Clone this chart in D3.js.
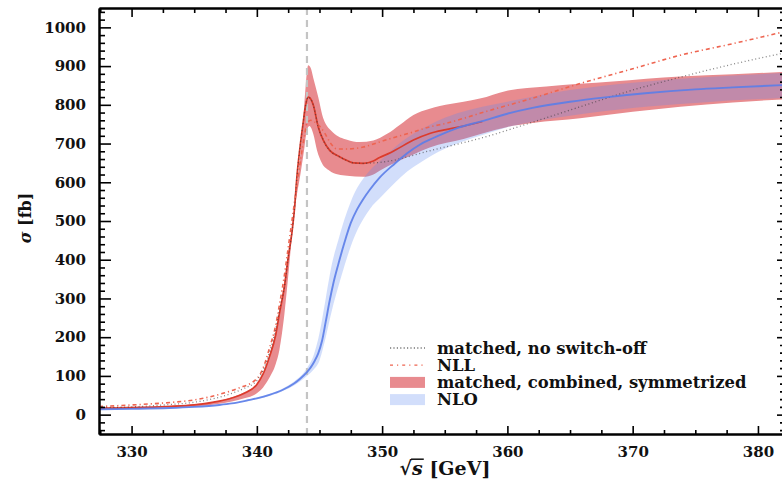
<!DOCTYPE html>
<html>
<head>
<meta charset="utf-8">
<script src="https://cdn.jsdelivr.net/npm/d3@7"></script>
<style>
  body { margin: 0; background: #fff; }
  svg { display: block; }
</style>
</head>
<body>
<svg id="chart" width="782" height="482"></svg>
<script>
// Cross section sigma [fb] versus sqrt(s) [GeV] near the top-pair threshold.

const xMajorTicks = [330, 340, 350, 360, 370, 380];
const xMinorTicks = [327.5, 332.5, 335, 337.5, 342.5, 345, 347.5, 352.5, 355, 357.5, 362.5, 365, 367.5, 372.5, 375, 377.5];
const yMajorTicks = [0, 100, 200, 300, 400, 500, 600, 700, 800, 900, 1000];
const yMinorTicks = d3.range(-40, 1050, 20).filter(v => v % 100 !== 0);
const thresholdLine = 344;

// NLO central value [sqrt(s), sigma]
const nloCentral = [
  [327.4, 14], [330, 15], [333, 17], [335, 20], [337, 25], [338, 29], [339, 35], [340, 42],
  [341, 51], [342, 63], [343, 81], [343.5, 94], [344, 110], [344.3, 122], [344.6, 138],
  [344.9, 158], [345.2, 190], [345.5, 240], [345.8, 292], [346.1, 338], [346.5, 388],
  [347, 445], [347.5, 495], [348, 530], [348.5, 557], [349, 580], [349.8, 612], [351, 648],
  [352, 675], [353, 697], [354, 713], [356, 740], [358, 758], [360, 777], [362, 792],
  [365, 808], [368, 820], [371, 830], [375, 840], [378, 845], [382, 851]
];

// NLO uncertainty band [sqrt(s), low, high]
const nloBand = [
  [327.4, 13, 15], [335, 19, 21], [340, 40, 44], [342, 60, 66], [343, 76, 86], [344, 100, 120],
  [344.5, 115, 150], [345, 140, 210], [345.5, 200, 300], [346, 270, 390], [346.5, 330, 450],
  [347, 385, 505], [347.5, 435, 550], [348, 475, 585], [348.5, 505, 610], [349, 530, 630],
  [350, 565, 660], [351, 598, 690], [352, 628, 715], [353, 650, 735], [354, 670, 752],
  [356, 700, 778], [358, 722, 795], [360, 742, 808], [365, 772, 838], [370, 792, 857],
  [375, 805, 870], [382, 818, 882]
];

// Matched, combined, symmetrized: band edges [sqrt(s), sigma]
const matchedBandLow = [
  [327.4, 15], [330, 16], [333, 19], [335, 21], [337, 28], [338, 34], [339, 42], [340, 55],
  [340.5, 70], [341, 95], [341.5, 130], [341.8, 167], [342.2, 260], [342.5, 356], [342.8, 460],
  [343.1, 545], [343.5, 625], [343.8, 690], [344.0, 735], [344.2, 745], [344.5, 725],
  [344.8, 683], [345.2, 649], [345.8, 630], [346.5, 620], [347.2, 617], [348.5, 614],
  [349.3, 620], [349.8, 630], [351.1, 652], [352.5, 672], [353.8, 690], [356.5, 712],
  [358, 726], [360, 743], [362, 753], [365.8, 765], [370, 782], [373.8, 795], [378, 806], [382, 814]
];
const matchedBandHigh = [
  [327.4, 19], [330, 21], [333, 23], [335, 27], [337, 36], [338, 45], [339, 58], [340, 80],
  [340.5, 105], [341, 152], [341.5, 215], [341.8, 265], [342.2, 345], [342.5, 410], [342.8, 480],
  [343.1, 565], [343.4, 650], [343.7, 760], [343.9, 850], [344.1, 902], [344.3, 895],
  [344.5, 870], [344.9, 820], [345.3, 765], [346.1, 728], [347.2, 710], [348.2, 704],
  [349.3, 708], [350.4, 725], [351.4, 748], [352.5, 774], [353.8, 790], [354.6, 797],
  [356.5, 808], [357.8, 816], [359.9, 836], [363.1, 847], [368.4, 860], [373.8, 873],
  [378, 879], [382, 885]
];

// Matched central value (joins NLO above ~358 GeV)
const matchedCentral = [
  [327.4, 16], [330, 17.5], [333, 21], [335, 25], [337, 35], [338, 43], [339, 55], [340, 78],
  [340.5, 105], [341, 149], [341.5, 205], [341.8, 261], [342.2, 330], [342.5, 405], [342.8, 470],
  [343.0, 530], [343.2, 615], [343.5, 705], [343.7, 755], [343.9, 800], [344.1, 820],
  [344.3, 815], [344.5, 800], [344.9, 743], [345.3, 709], [345.8, 683], [346.6, 666],
  [347.2, 656], [347.7, 650], [348.5, 649], [349.3, 655], [349.8, 664], [350.5, 674],
  [351.1, 684], [352.5, 709], [353.8, 726], [355.1, 736], [356.5, 745], [358, 757]
];

// Matched, no switch-off
const matchedNoSwitchOff = [
  [327.4, 18], [330, 20], [333, 26], [335, 32], [337, 45], [338, 55], [339, 68], [340, 88],
  [340.5, 115], [341, 160], [341.5, 220], [341.8, 268], [342.2, 330], [342.5, 405], [342.8, 470],
  [343.0, 530], [343.2, 615], [343.5, 705], [343.7, 755], [343.9, 800], [344.1, 820],
  [344.3, 815], [344.5, 800], [344.9, 743], [345.3, 709], [345.8, 683], [346.6, 666],
  [347.2, 656], [347.7, 650], [348.5, 649], [349.3, 650], [350, 652], [354, 683], [358, 715],
  [362, 755], [366, 797], [368, 818], [370, 838], [374, 873], [378, 905], [382, 933]
];

// NLL
const nll = [
  [327.4, 21], [330, 25], [333.3, 32], [335, 38], [337.3, 55], [338.5, 68], [340, 93],
  [340.5, 120], [341, 171], [341.5, 230], [341.8, 283], [342.2, 360], [342.5, 430], [342.8, 500],
  [343.1, 570], [343.5, 660], [343.8, 720], [344.0, 752], [344.3, 760], [344.6, 756],
  [345.0, 745], [345.4, 728], [345.9, 700], [346.4, 686], [347.2, 686], [348.5, 691],
  [349.6, 702], [351.1, 717], [352.5, 730], [353.8, 743], [355.1, 752], [356.5, 765],
  [357.8, 778], [362, 817], [365.8, 855], [370, 893], [373.8, 928], [378, 958], [382, 988]
];

const legendItems = [
  { label: "matched, no switch-off", kind: "dotted" },
  { label: "NLL", kind: "dashdot" },
  { label: "matched, combined, symmetrized", kind: "redband" },
  { label: "NLO", kind: "blueband" }
];

const colors = {
  redBand: "#e88b8f",
  blueBand: "rgb(95,135,240)",
  matched: "#dc3b2c",
  nll: "#ee6450",
  dotted: "#333333",
  nlo: "#5b7de8",
  threshold: "#c4c4c4"
};

const svg = d3.select("#chart");
const plotLeft = 99, plotRight = 783, plotTop = 8, plotBottom = 434;

const x = d3.scaleLinear().domain([327.4, 382]).range([plotLeft, plotRight]);
const y = d3.scaleLinear().domain([-50, 1050]).range([plotBottom, plotTop]);

svg.append("defs").append("clipPath").attr("id", "plotClip")
  .append("rect").attr("x", plotLeft).attr("y", plotTop)
  .attr("width", plotRight - plotLeft).attr("height", plotBottom - plotTop);

const plot = svg.append("g").attr("clip-path", "url(#plotClip)");

const curve = d3.curveMonotoneX;

const bandArea = d3.area().x(d => x(d[0])).y0(d => y(d[1])).y1(d => y(d[2])).curve(curve);
const line = d3.line().x(d => x(d[0])).y(d => y(d[1])).curve(curve);

// Matched band: upper edge forward, lower edge back
const redBandPath = line(matchedBandHigh) + "L" +
  line(matchedBandLow.slice().reverse()).slice(1) + "Z";

plot.append("path").attr("d", redBandPath).attr("fill", colors.redBand);

plot.append("path").datum(nloBand).attr("d", bandArea)
  .attr("fill", colors.blueBand).attr("fill-opacity", 0.28);

// threshold marker
plot.append("line")
  .attr("x1", x(thresholdLine)).attr("x2", x(thresholdLine))
  .attr("y1", plotTop).attr("y2", plotBottom)
  .attr("stroke", colors.threshold).attr("stroke-width", 2.2)
  .attr("stroke-dasharray", "7 5");

plot.append("path").datum(matchedCentral).attr("d", line)
  .attr("fill", "none").attr("stroke", colors.matched).attr("stroke-width", 1.7);

plot.append("path").datum(nll).attr("d", line)
  .attr("fill", "none").attr("stroke", colors.nll).attr("stroke-width", 1.6)
  .attr("stroke-dasharray", "4 3 1.2 3");

plot.append("path").datum(matchedNoSwitchOff).attr("d", line)
  .attr("fill", "none").attr("stroke", colors.dotted).attr("stroke-width", 1.3)
  .attr("stroke-opacity", 0.6).attr("stroke-dasharray", "1 2.6");

plot.append("path").datum(nloCentral).attr("d", line)
  .attr("fill", "none").attr("stroke", colors.nlo).attr("stroke-width", 1.9)
  .attr("stroke-opacity", 0.9);

// Axes with inward ticks
const tickFont = "DejaVu Serif, serif";

function styleAxis(g) {
  g.select(".domain").attr("stroke", "#000").attr("stroke-width", 2);
  g.selectAll(".tick line").attr("stroke", "#000").attr("stroke-width", 1.6);
  g.selectAll("text").attr("font-family", tickFont).attr("font-weight", "bold")
    .attr("font-size", 15).attr("fill", "#111");
}

svg.append("g").attr("transform", `translate(0,${plotBottom})`)
  .call(d3.axisBottom(x).tickValues(xMinorTicks).tickSize(-4).tickSizeOuter(0).tickFormat(""))
  .call(styleAxis);
svg.append("g").attr("transform", `translate(0,${plotBottom})`)
  .call(d3.axisBottom(x).tickValues(xMajorTicks).tickSize(-8).tickSizeOuter(0).tickPadding(12).tickFormat(d3.format("d")))
  .call(styleAxis);

svg.append("g").attr("transform", `translate(0,${plotTop})`)
  .call(d3.axisTop(x).tickValues(xMinorTicks).tickSize(-5).tickSizeOuter(0).tickFormat(""))
  .call(styleAxis);
svg.append("g").attr("transform", `translate(0,${plotTop})`)
  .call(d3.axisTop(x).tickValues(xMajorTicks).tickSize(-9).tickSizeOuter(0).tickFormat(""))
  .call(styleAxis);

svg.append("g").attr("transform", `translate(${plotLeft},0)`)
  .call(d3.axisLeft(y).tickValues(yMinorTicks).tickSize(-6).tickSizeOuter(0).tickFormat(""))
  .call(styleAxis);
svg.append("g").attr("transform", `translate(${plotLeft},0)`)
  .call(d3.axisLeft(y).tickValues(yMajorTicks).tickSize(-12).tickSizeOuter(0).tickPadding(13).tickFormat(d3.format("d")))
  .call(styleAxis);

svg.append("g").attr("transform", `translate(${plotRight},0)`)
  .call(d3.axisRight(y).tickValues(yMinorTicks).tickSize(-3).tickSizeOuter(0).tickFormat(""))
  .call(styleAxis);
svg.append("g").attr("transform", `translate(${plotRight},0)`)
  .call(d3.axisRight(y).tickValues(yMajorTicks).tickSize(-6).tickSizeOuter(0).tickFormat(""))
  .call(styleAxis);

// Axis titles
const yTitle = svg.append("text")
  .attr("transform", "translate(31,218) rotate(-90)")
  .attr("text-anchor", "middle")
  .attr("font-family", tickFont).attr("font-weight", "bold").attr("font-size", 16).attr("fill", "#111");
yTitle.append("tspan").attr("font-style", "italic").text("σ");
yTitle.append("tspan").text(" [fb]");

const xTitle = svg.append("text")
  .attr("x", 445).attr("y", 475)
  .attr("text-anchor", "middle")
  .attr("font-family", tickFont).attr("font-weight", "bold").attr("font-size", 19).attr("fill", "#111");
xTitle.append("tspan").text("√");
xTitle.append("tspan").attr("font-style", "italic").text("s");
xTitle.append("tspan").text(" [GeV]");
// radical bar over the s
const sBox = xTitle.node().getExtentOfChar(1);
const rootBox = xTitle.node().getExtentOfChar(0);
svg.append("line")
  .attr("x1", rootBox.x + rootBox.width - 1).attr("x2", sBox.x + sBox.width + 1)
  .attr("y1", rootBox.y + 2.2).attr("y2", rootBox.y + 2.2)
  .attr("stroke", "#111").attr("stroke-width", 1.5);

// Legend
const legend = svg.append("g").attr("transform", "translate(390,348)");
const rowH = 17.2;
legendItems.forEach((item, i) => {
  const g = legend.append("g").attr("transform", `translate(0,${i * rowH})`);
  if (item.kind === "dotted") {
    g.append("line").attr("x1", 0).attr("x2", 35).attr("y1", 0).attr("y2", 0)
      .attr("stroke", "#777").attr("stroke-width", 1.3).attr("stroke-dasharray", "1.2 2.2");
  } else if (item.kind === "dashdot") {
    g.append("line").attr("x1", 0).attr("x2", 35).attr("y1", 0).attr("y2", 0)
      .attr("stroke", colors.nll).attr("stroke-width", 1.3).attr("stroke-dasharray", "3 4 1.2 4");
  } else if (item.kind === "redband") {
    g.append("rect").attr("x", 0).attr("y", -5.5).attr("width", 35).attr("height", 11)
      .attr("fill", colors.redBand);
  } else {
    g.append("rect").attr("x", 0).attr("y", -5.5).attr("width", 35).attr("height", 11)
      .attr("fill", colors.blueBand).attr("fill-opacity", 0.28);
  }
  g.append("text").attr("x", 47).attr("y", 5.5)
    .attr("font-family", tickFont).attr("font-weight", "bold").attr("font-size", 16.4)
    .attr("fill", "#111")
    .text(item.label);
});
</script>
</body>
</html>
